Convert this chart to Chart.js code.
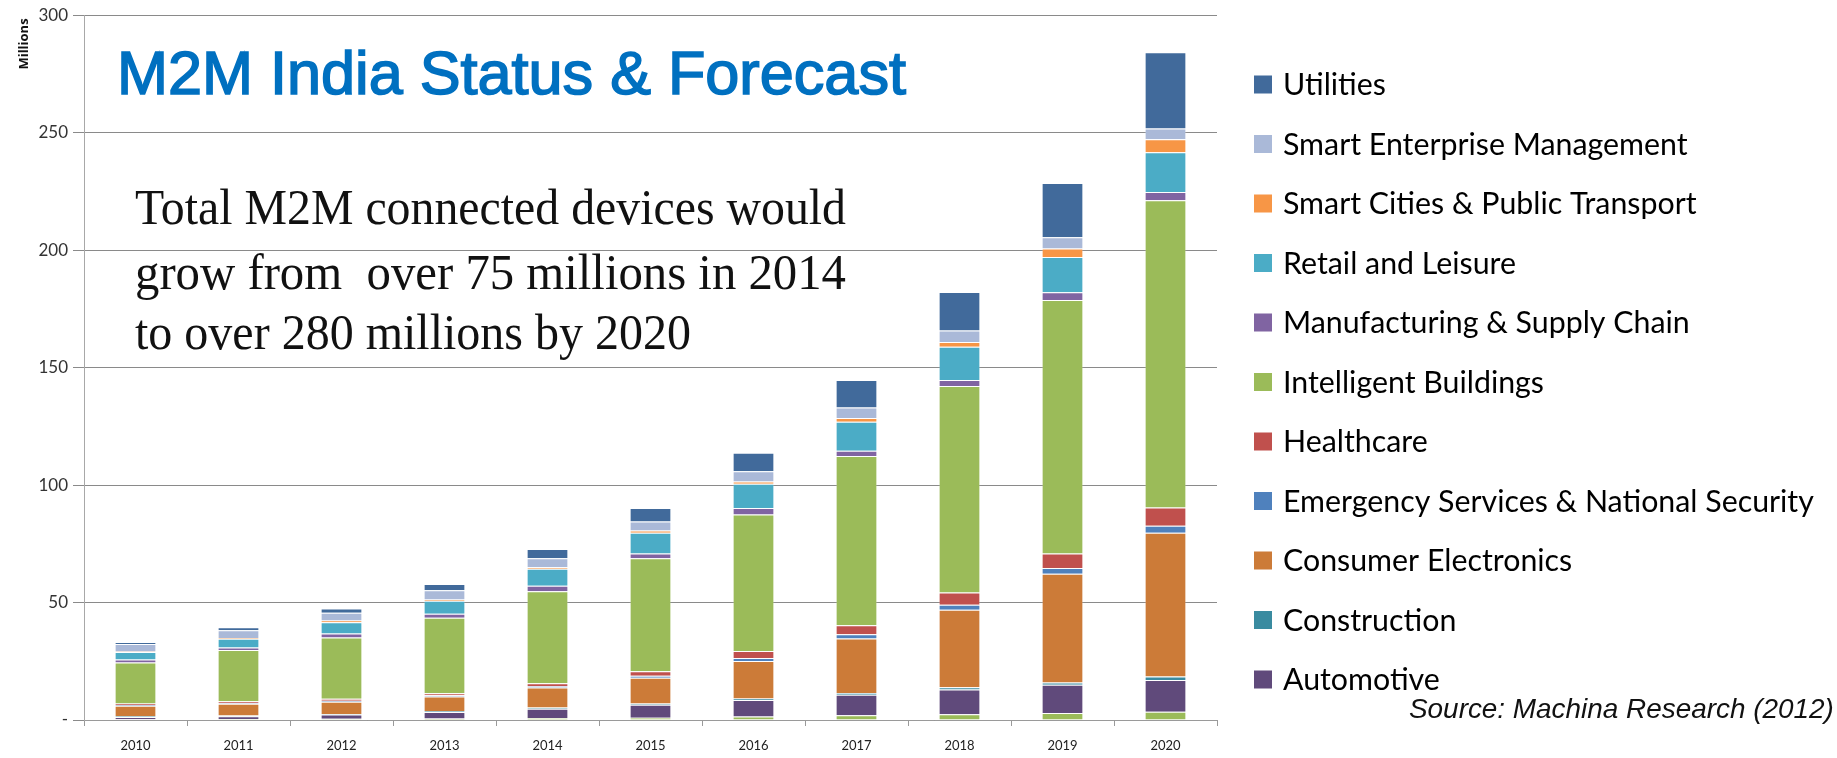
<!DOCTYPE html>
<html>
<head>
<meta charset="utf-8">
<title>M2M India Status & Forecast</title>
<script src="https://cdn.jsdelivr.net/npm/chart.js@4.4.1/dist/chart.umd.min.js"></script>
<style>
  html, body { margin: 0; padding: 0; background: #ffffff; }
  canvas { display: block; }
</style>
</head>
<body>
<canvas id="grafico" width="1837" height="758"></canvas>
<script>
// Anos (categorias)
const anos = ['2010', '2011', '2012', '2013', '2014', '2015', '2016', '2017', '2018', '2019', '2020'];

// Valores em milhões (de baixo para cima na pilha)
const agriculture   = [0.3, 0.4, 0.5, 0.6, 0.8, 1.0, 1.5, 2.0, 2.5, 3.0, 3.5];
const automotive    = [1.0, 1.2, 1.8, 2.8, 4.0, 5.5, 7.0, 8.8, 10.5, 12.0, 13.5];
const construction  = [0.3, 0.3, 0.3, 0.4, 0.5, 0.5, 0.6, 0.7, 0.9, 1.0, 1.5];
const consumer      = [4.5, 5.0, 5.2, 6.2, 8.5, 11.0, 16.0, 23.2, 33.0, 46.2, 61.2];
const emergency     = [0.3, 0.3, 0.4, 0.5, 0.6, 0.8, 1.3, 1.8, 2.2, 2.5, 3.0];
const healthcare    = [0.6, 0.8, 0.8, 0.9, 1.2, 2.0, 3.0, 3.8, 5.2, 6.2, 7.7];
const intelligent   = [17.5, 21.8, 26.1, 32.1, 39.2, 48.0, 58.1, 72.1, 87.9, 107.9, 130.8];
const manufacturing = [1.2, 1.1, 1.7, 1.7, 2.3, 2.1, 2.7, 2.2, 2.5, 3.3, 3.5];
const retail        = [3.2, 3.7, 4.8, 5.6, 7.3, 8.8, 10.4, 12.3, 14.2, 15.0, 17.0];
const smartCities   = [0.3, 0.3, 0.8, 0.5, 0.6, 1.0, 0.9, 1.7, 2.0, 3.6, 5.5];
const smartEnt      = [3.1, 3.3, 3.2, 3.9, 3.8, 3.8, 4.4, 4.4, 4.9, 4.8, 4.6];
const utilities     = [0.9, 1.3, 1.9, 2.7, 4.0, 5.7, 7.9, 11.7, 16.4, 23.1, 32.4];

// Rótulos do eixo Y
const yTicks = { 0: '-', 50: '50', 100: '100', 150: '150', 200: '200', 250: '250', 300: '300' };

const series = [
    { label: 'Agriculture', data: agriculture, color: '#9BBB59', legend: false },
    { label: 'Automotive', data: automotive, color: '#604A7B', legend: true },
    { label: 'Construction', data: construction, color: '#3A8BA0', legend: true },
    { label: 'Consumer Electronics', data: consumer, color: '#CC7B38', legend: true },
    { label: 'Emergency Services & National Security', data: emergency, color: '#4F81BD', legend: true },
    { label: 'Healthcare', data: healthcare, color: '#C0504D', legend: true },
    { label: 'Intelligent Buildings', data: intelligent, color: '#9BBB59', legend: true },
    { label: 'Manufacturing & Supply Chain', data: manufacturing, color: '#8064A2', legend: true },
    { label: 'Retail and Leisure', data: retail, color: '#4BACC6', legend: true },
    { label: 'Smart Cities & Public Transport', data: smartCities, color: '#F79646', legend: true },
    { label: 'Smart Enterprise Management', data: smartEnt, color: '#AAB9D8', legend: true },
    { label: 'Utilities', data: utilities, color: '#416A9B', legend: true }
];

const dados = {
    labels: anos,
    datasets: series.map(s => ({
        label: s.label,
        data: s.data,
        backgroundColor: s.color,
        borderColor: 'rgba(255,255,255,0.25)',
        borderWidth: 1,
        barPercentage: 0.405,
        categoryPercentage: 1.0
    }))
};

// escreve um texto esticado/comprimido para ocupar uma largura
function textoAjustado(ctx, texto, x, y, fonte, largura, traco) {
    ctx.font = fonte;
    const w = ctx.measureText(texto).width;
    ctx.save();
    ctx.translate(x, y);
    ctx.scale(largura / w, 1);
    ctx.fillText(texto, 0, 0);
    if (traco) {
        ctx.lineWidth = traco;
        ctx.strokeStyle = ctx.fillStyle;
        ctx.strokeText(texto, 0, 0);
    }
    ctx.restore();
}

// Título, texto, legenda e fonte
const extras = {
    id: 'extras',
    afterDraw(chart) {
        const ctx = chart.ctx;
        ctx.save();
        ctx.textAlign = 'left';
        ctx.textBaseline = 'alphabetic';

        // titulo
        ctx.fillStyle = '#0070C0';
        textoAjustado(ctx, 'M2M India Status & Forecast', 117, 94, '62px "Liberation Sans", Arial, sans-serif', 789, 1.6);

        // texto explicativo
        ctx.fillStyle = '#111111';
        const serif = '50px "Liberation Serif", "DejaVu Serif", serif';
        textoAjustado(ctx, 'Total M2M connected devices would', 135, 224, serif, 711);
        textoAjustado(ctx, 'grow from  over 75 millions in 2014', 135, 289, serif, 711);
        textoAjustado(ctx, 'to over 280 millions by 2020', 135, 349, serif, 556);

        // Millions
        ctx.save();
        ctx.translate(24, 44);
        ctx.rotate(-Math.PI / 2);
        ctx.textAlign = 'center';
        ctx.textBaseline = 'middle';
        ctx.font = 'bold 13px "Open Sans", Arial, sans-serif';
        ctx.fillStyle = '#111';
        ctx.fillText('Millions', 0, 0);
        ctx.restore();

        // legenda (ordem invertida)
        const itens = chart.data.datasets
            .map((d, i) => ({ d: d, s: series[i] }))
            .filter(o => o.s.legend)
            .reverse();
        ctx.font = '100px Lato, "Open Sans", sans-serif';
        const tam = 100 * 531 / ctx.measureText('Emergency Services & National Security').width;
        ctx.font = tam + 'px Lato, "Open Sans", sans-serif';
        ctx.textBaseline = 'middle';
        itens.forEach((o, i) => {
            const yc = 84.5 + i * 59.5;
            ctx.fillStyle = o.d.backgroundColor;
            ctx.fillRect(1254, yc - 9, 18, 18);
            ctx.fillStyle = '#000';
            ctx.fillText(o.d.label, 1283, yc + 1);
        });

        // fonte dos dados
        ctx.textBaseline = 'alphabetic';
        ctx.fillStyle = '#111';
        ctx.font = 'italic 100px "Liberation Sans", Arial, sans-serif';
        const t2 = 100 * 425 / ctx.measureText('Source: Machina Research (2012)').width;
        ctx.font = 'italic ' + t2 + 'px "Liberation Sans", Arial, sans-serif';
        ctx.fillText('Source: Machina Research (2012)', 1409, 718);

        ctx.restore();
    }
};

const config = {
    type: 'bar',
    data: dados,
    options: {
        responsive: false,
        animation: false,
        devicePixelRatio: 1,
        layout: { padding: { left: 0, right: 620, top: 13, bottom: 0 } },
        plugins: {
            legend: { display: false },
            tooltip: { enabled: false }
        },
        scales: {
            x: {
                stacked: true,
                grid: { display: true, drawOnChartArea: false, offset: true, tickLength: 6, color: '#9a9a9a' },
                border: { color: '#9a9a9a' },
                ticks: { color: '#222', font: { family: 'Lato, "Open Sans", sans-serif', size: 13 }, padding: 12 },
                afterFit: function(scale) { scale.height = 38; }
            },
            y: {
                stacked: true,
                min: 0,
                max: 300,
                grid: { color: '#8a8a8a', tickLength: 11 },
                border: { color: '#a8a8a8' },
                ticks: {
                    stepSize: 50,
                    padding: 5,
                    color: '#333',
                    font: { family: 'Lato, "Open Sans", sans-serif', size: 17 },
                    callback: function(v) { return yTicks[v]; }
                },
                afterFit: function(scale) { scale.width = 84; }
            }
        }
    },
    plugins: [extras]
};

window.onload = function() {
    new Chart(document.getElementById('grafico'), config);
};
</script>
</body>
</html>
